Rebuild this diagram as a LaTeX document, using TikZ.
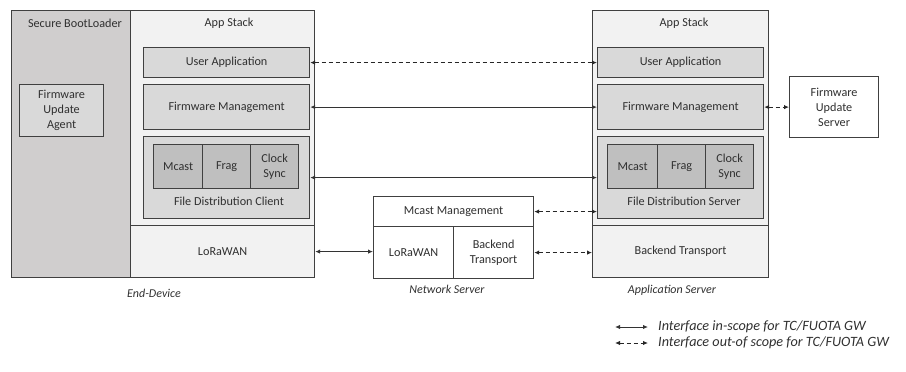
\documentclass[tikz,border=0pt]{standalone}
\usepackage{fontspec}
\setmainfont{Carlito}
\usetikzlibrary{arrows.meta}
\definecolor{blgray}{HTML}{D0CECE}
\definecolor{stackbg}{HTML}{F2F2F2}
\definecolor{boxbg}{HTML}{D9D9D9}
\definecolor{innerbg}{HTML}{BFBFBF}
\definecolor{edge}{HTML}{404040}
\definecolor{txt}{HTML}{303030}
\begin{document}
\begin{tikzpicture}[x=1pt,y=-1pt,
  font=\fontsize{12.2}{15}\selectfont,
  blk/.style={draw=edge,line width=1.2pt,anchor=north west,inner sep=0pt,align=center,text=txt},
  lbl/.style={text=txt,inner sep=0pt},
  captxt/.style={text=txt,inner sep=0pt,font=\fontsize{12}{14}\selectfont\itshape},
  legtxt/.style={text=txt,inner sep=0pt,font=\fontsize{14.2}{16}\selectfont\itshape},
  solidarr/.style={{Latex[length=5pt,width=4.5pt]}-{Latex[length=5pt,width=4.5pt]},line width=1pt,draw=black!80},
  dasharr/.style={{Latex[length=5pt,width=4.5pt]}-{Latex[length=5pt,width=4.5pt]},line width=1pt,draw=black!85,dash pattern=on 4pt off 3pt}
]
\useasboundingbox (0,0) rectangle (906,372);

% End-Device
\node[blk,fill=blgray,minimum width=119pt,minimum height=267pt] (bl) at (11,10) {};
\node[blk,fill=stackbg,minimum width=184pt,minimum height=215pt] (as1) at (130,10) {};
\node[blk,fill=stackbg,minimum width=184pt,minimum height=52pt] (edlora) at (130,225) {LoRaWAN};
\node[lbl] (bltxt) at (75,23) {Secure BootLoader};
\node[lbl] (as1txt) at (229,23) {App Stack};
\node[blk,fill=boxbg,minimum width=84pt,minimum height=52pt] (fua) at (19,84) {Firmware\\Update\\Agent};
\node[blk,fill=boxbg,minimum width=166pt,minimum height=30pt] (ua1) at (143,47) {User Application};
\node[blk,fill=boxbg,minimum width=166pt,minimum height=45pt] (fm1) at (143,84) {Firmware Management};
\node[blk,fill=boxbg,minimum width=166pt,minimum height=82pt] (fdc) at (143,136) {};
\node[blk,fill=innerbg,minimum width=49pt,minimum height=44pt] (mc1) at (153,144) {Mcast};
\node[blk,fill=innerbg,minimum width=48pt,minimum height=44pt] (fr1) at (202,144) {Frag};
\node[blk,fill=innerbg,minimum width=48pt,minimum height=44pt] (cs1) at (250,144) {Clock\\Sync};
\node[lbl] (fdctxt) at (229,201) {File Distribution Client};
\node[captxt] (edcap) at (154,293) {End-Device};

% Network Server
\node[blk,fill=white,minimum width=160pt,minimum height=30pt] (mm) at (373,196) {Mcast Management};
\node[blk,fill=white,minimum width=80pt,minimum height=52pt] (nl) at (373,226) {LoRaWAN};
\node[blk,fill=white,minimum width=80pt,minimum height=52pt] (nbt) at (453,226) {Backend\\Transport};
\node[captxt] (nscap) at (447,289) {Network Server};

% Application Server
\node[blk,fill=stackbg,minimum width=176pt,minimum height=215pt] (as2) at (592,10) {};
\node[blk,fill=stackbg,minimum width=176pt,minimum height=52pt] (asbt) at (592,225) {Backend Transport};
\node[lbl] (as2txt) at (684,23) {App Stack};
\node[blk,fill=boxbg,minimum width=166pt,minimum height=30pt] (ua2) at (597,47) {User Application};
\node[blk,fill=boxbg,minimum width=166pt,minimum height=45pt] (fm2) at (597,84) {Firmware Management};
\node[blk,fill=boxbg,minimum width=166pt,minimum height=82pt] (fds) at (597,136) {};
\node[blk,fill=innerbg,minimum width=50pt,minimum height=44pt] (mc2) at (607,144) {Mcast};
\node[blk,fill=innerbg,minimum width=48pt,minimum height=44pt] (fr2) at (657,144) {Frag};
\node[blk,fill=innerbg,minimum width=48pt,minimum height=44pt] (cs2) at (705,144) {Clock\\Sync};
\node[lbl] (fdstxt) at (684,201) {File Distribution Server};
\node[captxt] (ascap) at (672,290) {Application Server};
\node[blk,fill=white,minimum width=89pt,minimum height=61pt] (fus) at (789,76) {Firmware\\Update\\Server};

% Connectors
\draw[dasharr] (ua1.east) -- (ua2.west);
\draw[solidarr] (fm1.east) -- (fm2.west);
\draw[solidarr] (fdc.east) -- (fds.west);
\draw[dasharr] (mm.east) -- (mm.east -| fds.west);
\draw[solidarr] (edlora.east) -- (edlora.east -| nl.west);
\draw[dasharr] (nbt.east) -- (nbt.east -| asbt.west);
\draw[dasharr] (fm2.east) -- (fus.west);

% Legend
\coordinate (l1a) at (615,327);
\coordinate (l1b) at (648,327);
\coordinate (l2a) at (615,343);
\coordinate (l2b) at (648,343);
\draw[solidarr] (l1a) -- (l1b);
\draw[dasharr] (l2a) -- (l2b);
\node[legtxt,anchor=west] (lt1) at (658,327) {Interface in-scope for TC/FUOTA GW};
\node[legtxt,anchor=west] (lt2) at (658,343) {Interface out-of scope for TC/FUOTA GW};
\end{tikzpicture}
\end{document}
